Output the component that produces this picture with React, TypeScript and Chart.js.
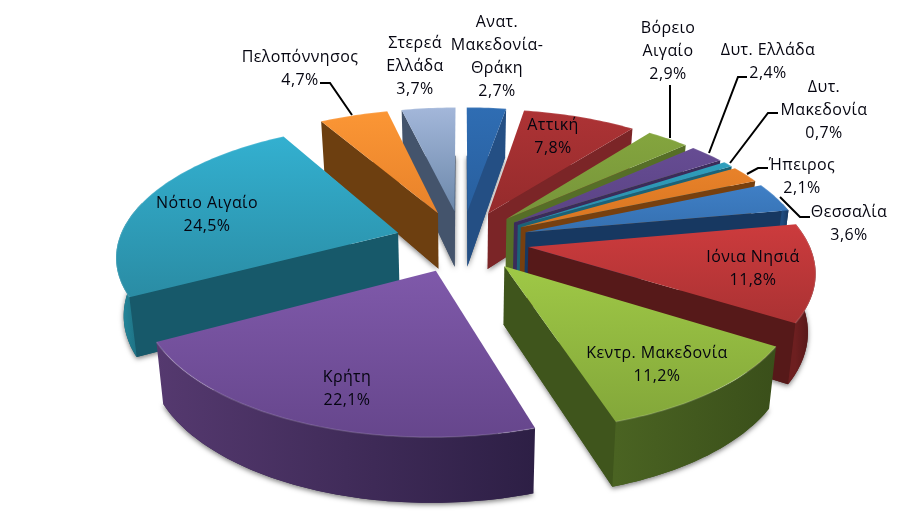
import React, { useEffect, useRef } from "react";
import { Chart, registerables } from "chart.js";

Chart.register(...registerables);

const categories = [
  "Ανατ. Μακεδονία- Θράκη", "Αττική", "Βόρειο Αιγαίο", "Δυτ. Ελλάδα", "Δυτ. Μακεδονία", "Ήπειρος", "Θεσσαλία",
  "Ιόνια Νησιά", "Κεντρ. Μακεδονία", "Κρήτη", "Νότιο Αιγαίο", "Πελοπόννησος", "Στερεά Ελλάδα",
];
const values = [2.7, 7.8, 2.9, 2.4, 0.7, 2.1, 3.6, 11.8, 11.2, 22.1, 24.5, 4.7, 3.7];

const topLight = ["#2f6db3", "#ad3335", "#84a53e", "#664c93", "#2f9fbd", "#e8822a", "#3f7fc6", "#cc3b3d", "#9fc846", "#7f59aa", "#33b0d0", "#fb9635", "#a3b7da"];
const topDark = ["#285f9e", "#952b2c", "#76943a", "#5a4384", "#2a8ca8", "#d87520", "#3570b0", "#aa3233", "#83a73a", "#66468c", "#2a8ca4", "#e8822a", "#6c88aa"];
const wallColor = ["#244f84", "#7b2527", "#566e27", "#3b2c5a", "#1b6377", "#77400f", "#173861", "#561919", "#3f551c", "#33234d", "#17596a", "#6d3f10", "#44546c"];
const arcLight = ["#2a5c98", "#8a2a2c", "#5f7a2c", "#453468", "#1f7088", "#884a12", "#1e4a7e", "#6d1f20", "#4a6322", "#55396f", "#268fa4", "#7d4a14", "#4e607a"];
const arcDark = ["#244f84", "#7b2527", "#566e27", "#3b2c5a", "#1b6377", "#77400f", "#173861", "#4a1415", "#3a4f1a", "#2d1f45", "#1c6a7c", "#6d3f10", "#44546c"];

const labelLines = [
  ["Ανατ.", "Μακεδονία-", "Θράκη"], ["Αττική"], ["Βόρειο", "Αιγαίο"], ["Δυτ. Ελλάδα"], ["Δυτ.", "Μακεδονία"], ["Ήπειρος"], ["Θεσσαλία"],
  ["Ιόνια Νησιά"], ["Κεντρ. Μακεδονία"], ["Κρήτη"], ["Νότιο Αιγαίο"], ["Πελοπόννησος"], ["Στερεά", "Ελλάδα"],
];
const labelX = [497, 553, 668, 768, 824, 802, 849, 753, 657, 347, 207, 300, 415];
const labelY = [22, 125, 28, 50, 87, 165, 212, 257, 353, 377, 203, 57, 43];
const LINE_H = 23;

const leaders: number[][][] = [
  [[320, 83], [330, 83], [352, 115]],
  [[670, 85], [670, 138]],
  [[747, 77], [738, 77], [709, 153]],
  [[778, 113], [768, 113], [730, 163]],
  [[768, 168], [758, 168], [747, 174]],
  [[810, 217], [800, 217], [780, 197]],
];

// projection constants for the tilted, exploded pie
const EXPLODE = 0.24;
const KX = 1.16;
const KY = 0.536;
const PERSP = 0.16;
const TAPER = 0.978;
const DEPTH_A = 0.2365;
const DEPTH_B = 0.029;

const pie3d = {
  id: "pie3d",
  beforeDatasetDraw() {
    return false; // the plugin paints the arcs itself, from their computed angles
  },
  afterDatasetsDraw(chart: any) {
    const ctx: CanvasRenderingContext2D = chart.ctx;
    const arcs = chart.getDatasetMeta(0).data;
    const proj = (arc: any, u: number, v: number, low: boolean) => {
      const R = arc.outerRadius;
      const s = 1 / (1 - PERSP * v);
      let x = KX * R * u * s;
      let y = KY * R * v * s;
      if (low) {
        x *= TAPER;
        y += (DEPTH_A + DEPTH_B * v) * R;
      }
      return [arc.x + x, arc.y + y];
    };
    const poly = (pts: number[][]) => {
      ctx.beginPath();
      pts.forEach((p, i) => (i ? ctx.lineTo(p[0], p[1]) : ctx.moveTo(p[0], p[1])));
      ctx.closePath();
    };
    const order = arcs
      .map((a: any, i: number) => ({ i, v: Math.sin((a.startAngle + a.endAngle) / 2) }))
      .sort((p: any, q: any) => p.v - q.v);

    order.forEach(({ i }: any) => {
      const arc = arcs[i];
      const a0 = arc.startAngle;
      const a1 = arc.endAngle;
      const mid = (a0 + a1) / 2;
      const ax = EXPLODE * Math.cos(mid);
      const ay = EXPLODE * Math.sin(mid);
      const pt = (a: number) => [ax + Math.cos(a), ay + Math.sin(a)];
      const n = Math.max(3, Math.ceil((a1 - a0) / 0.02));
      const angles: number[] = [];
      for (let k = 0; k <= n; k++) angles.push(a0 + ((a1 - a0) * k) / n);
      const top = angles.map((a) => proj(arc, pt(a)[0], pt(a)[1], false));
      const bot = angles.map((a) => proj(arc, pt(a)[0], pt(a)[1], true));
      const apexT = proj(arc, ax, ay, false);
      const apexB = proj(arc, ax, ay, true);

      // soft shadow under the slice
      ctx.save();
      ctx.shadowColor = "rgba(0,0,0,0.5)";
      ctx.shadowBlur = 5;
      ctx.shadowOffsetY = 2;
      ctx.fillStyle = wallColor[i];
      poly([apexB, ...bot]);
      ctx.fill();
      ctx.restore();

      // radial walls that face the viewer
      ctx.fillStyle = wallColor[i];
      if (Math.cos(a1) > 0) {
        poly([apexT, top[n], bot[n], apexB]);
        ctx.fill();
      }
      if (Math.cos(a0) < 0) {
        poly([apexT, top[0], bot[0], apexB]);
        ctx.fill();
      }

      // outer curved wall
      const idx = angles.map((a, k) => (Math.sin(a) > -0.25 ? k : -1)).filter((k) => k >= 0);
      if (idx.length > 1) {
        const t = idx.map((k) => top[k]);
        const b = idx.map((k) => bot[k]).reverse();
        const xs = t.map((p) => p[0]);
        const g = ctx.createLinearGradient(Math.min(...xs), 0, Math.max(...xs), 0);
        g.addColorStop(0, arcLight[i]);
        g.addColorStop(1, arcDark[i]);
        ctx.fillStyle = g;
        poly([...t, ...b]);
        ctx.fill();
      }

      // top face
      const ys = [...top.map((p) => p[1]), apexT[1]];
      const g2 = ctx.createLinearGradient(0, Math.min(...ys), 0, Math.max(...ys));
      g2.addColorStop(0, topLight[i]);
      g2.addColorStop(1, topDark[i]);
      ctx.fillStyle = g2;
      poly([apexT, ...top]);
      ctx.fill();

      // faint bevel along the outer rim
      ctx.strokeStyle = "rgba(255,255,255,0.14)";
      ctx.lineWidth = 1.5;
      ctx.beginPath();
      top.forEach((p, k) => (k ? ctx.lineTo(p[0], p[1]) : ctx.moveTo(p[0], p[1])));
      ctx.stroke();
    });

    // leader lines
    ctx.strokeStyle = "#000";
    ctx.lineWidth = 2;
    ctx.lineJoin = "miter";
    leaders.forEach((l) => {
      ctx.beginPath();
      l.forEach((p, i) => (i ? ctx.lineTo(p[0], p[1]) : ctx.moveTo(p[0], p[1])));
      ctx.stroke();
    });

    // labels
    ctx.fillStyle = "#050510";
    ctx.font = '16px "Open Sans", "Noto Sans", sans-serif';
    (ctx as any).letterSpacing = "0.4px";
    ctx.textAlign = "center";
    ctx.textBaseline = "middle";
    labelLines.forEach((lines, i) => {
      const all = [...lines, values[i].toFixed(1).replace(".", ",") + "%"];
      all.forEach((t, k) => ctx.fillText(t, labelX[i], labelY[i] + k * LINE_H));
    });
    (ctx as any).letterSpacing = "0px";
  },
};

export default function App() {
  const ref = useRef<HTMLCanvasElement>(null);
  useEffect(() => {
    const chart = new Chart(ref.current as HTMLCanvasElement, {
      type: "pie",
      data: { labels: categories, datasets: [{ data: values, backgroundColor: topLight, borderWidth: 0 }] },
      options: {
        animation: false,
        responsive: false,
        devicePixelRatio: 1,
        rotation: 0,
        layout: { padding: { left: 24, right: 0, top: 0, bottom: 44 } },
        plugins: { legend: { display: false }, tooltip: { enabled: false } },
      },
      plugins: [pie3d],
    } as any);
    return () => chart.destroy();
  }, []);
  return (
    <>
      <style>{"html,body{margin:0;background:#fff}"}</style>
      <canvas ref={ref} width={900} height={526} style={{ display: "block" }} />
    </>
  );
}
